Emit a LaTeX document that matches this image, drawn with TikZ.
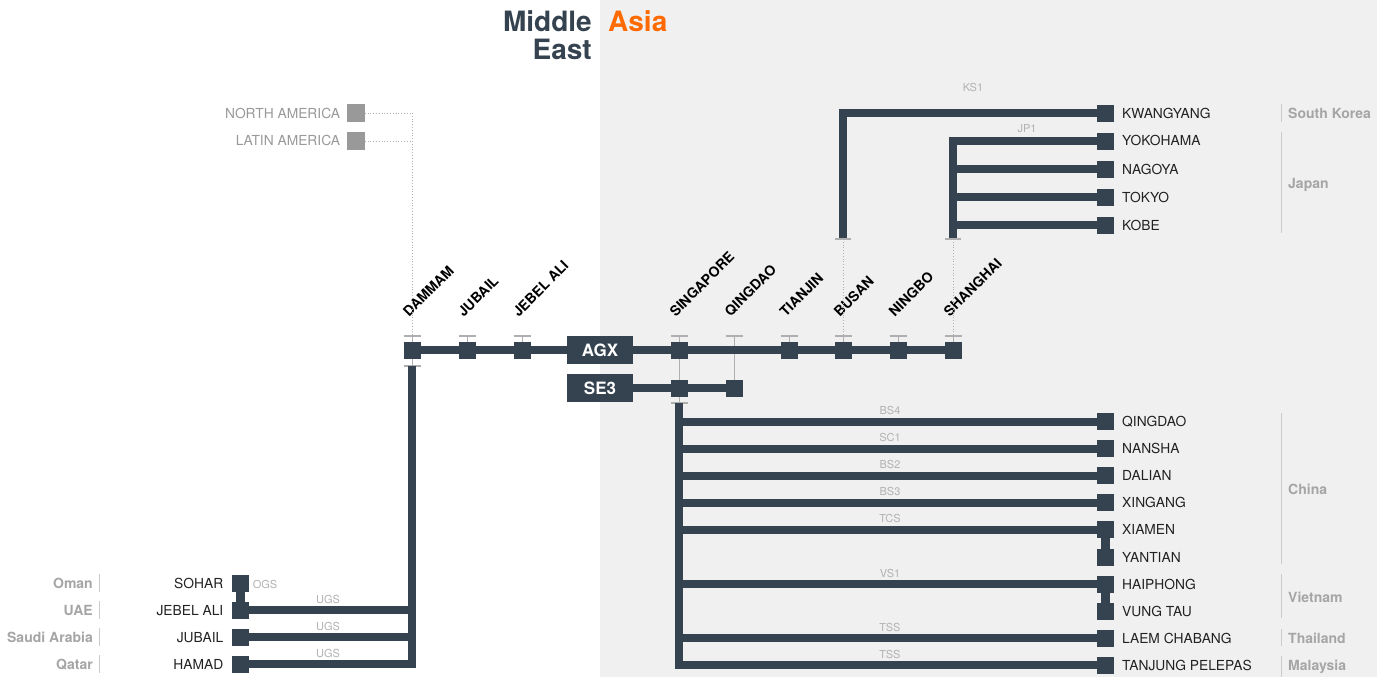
\documentclass[tikz,border=0pt]{standalone}
\usepackage{fontspec}
\setmainfont{TeX Gyre Heros}
\definecolor{dark}{RGB}{52,67,79}
\definecolor{bggray}{RGB}{240,240,240}
\definecolor{orangeA}{RGB}{255,106,0}
\definecolor{lblc}{RGB}{178,178,178}
\definecolor{ctryc}{RGB}{165,165,165}
\definecolor{tickc}{RGB}{175,175,175}
\definecolor{amer}{RGB}{153,153,153}
\definecolor{portc}{RGB}{34,34,34}
\begin{document}
\begin{tikzpicture}[x=1pt,y=-1pt,
  sq/.style={rectangle, fill=dark, minimum size=17pt, inner sep=0pt, outer sep=0pt},
  asq/.style={rectangle, fill=amer, minimum size=17.5pt, inner sep=0pt, outer sep=0pt},
  route/.style={draw=dark, line width=8pt},
  link/.style={draw=dark, line width=9pt},
  thinline/.style={draw=tickc, line width=1pt},
  tickmark/.style={draw=tickc, line width=1.3pt},
  dots/.style={draw=tickc, line width=0.8pt, dotted},
  bracket/.style={draw=black!20, line width=0.9pt},
  rl/.style={text=lblc, font=\fontsize{11}{13}\selectfont, inner sep=0pt},
  port/.style={text=portc, font=\fontsize{13.8}{16}\selectfont, inner sep=0pt},
  amtext/.style={text=amer, font=\fontsize{13.8}{16}\selectfont, inner sep=0pt},
  ctry/.style={text=ctryc, font=\bfseries\fontsize{14}{16}\selectfont, inner sep=0pt},
  stoplbl/.style={rotate=45, anchor=south west, text=black, font=\bfseries\fontsize{14}{16}\selectfont, inner sep=0pt},
  svc/.style={rectangle, fill=dark, text=white, font=\bfseries\fontsize{17}{20}\selectfont, minimum width=66pt, minimum height=27.5pt, inner sep=0pt, outer sep=0pt},
  ttl/.style={font=\bfseries\fontsize{28}{30}\selectfont, inner sep=0pt}
]
\useasboundingbox (0,0) rectangle (1377,677);
\fill[white] (0,0) rectangle (600,677);
\fill[bggray] (600,0) rectangle (1377,677);

% titles
\node[ttl, text=dark, anchor=base east] (t1) at (592,32) {Middle};
\node[ttl, text=dark, anchor=base east] (t2) at (592,60) {East};
\node[ttl, text=orangeA, anchor=base west] (t3) at (608,32) {Asia};

% main line stops
\node[sq] (dam) at (412,350) {};
\node[sq] (jub) at (467,350) {};
\node[sq] (jeb) at (522,350) {};
\node[svc] (agx) at (600,350) {AGX};
\node[sq] (sgp) at (679,350) {};
\node[sq] (tia) at (789,350) {};
\node[sq] (bus) at (843,350) {};
\node[sq] (nin) at (898,350) {};
\node[sq] (sha) at (953,350) {};
\coordinate (qdtop) at (734,336);

\node[svc] (se3) at (600,388) {SE3};
\node[sq] (sgs) at (679,388) {};
\node[sq] (qds) at (734,388) {};

% thin links and ticks
\draw[thinline] (qdtop) -- (qds.north);
\draw[thinline] (sgp.south) -- (sgs.north);
\draw[tickmark] ([xshift=-8.5pt]qdtop) -- ([xshift=8.5pt]qdtop);
\foreach \n in {dam,jub,jeb,sgp,tia,bus,nin,sha}{
  \draw[tickmark] ([yshift=5.5pt]\n.north west) -- ([yshift=5.5pt]\n.north east);
  \draw[thinline] ([yshift=5.5pt]\n.north) -- (\n.north);
}
% tick below Dammam and below Singapore (SE3)
\coordinate (damb) at (412,366);
\draw[tickmark] ([xshift=-8.5pt]damb) -- ([xshift=8.5pt]damb);
\draw[thinline] (dam.south) -- (damb);
\coordinate (seb) at (679,403);
\draw[tickmark] ([xshift=-8.5pt]seb) -- ([xshift=8.5pt]seb);
\draw[thinline] (sgs.south) -- (seb);

% main routes
\draw[route] (dam) -- (jub);
\draw[route] (jub) -- (jeb);
\draw[route] (jeb) -- (agx);
\draw[route] (agx) -- (sgp);
\draw[route] (sgp) -- (tia);
\draw[route] (tia) -- (bus);
\draw[route] (bus) -- (nin);
\draw[route] (nin) -- (sha);
\draw[route] (se3) -- (sgs);
\draw[route] (sgs) -- (qds);

% stop labels
\foreach \n/\t in {dam/DAMMAM, jub/JUBAIL, jeb/JEBEL ALI, sgp/SINGAPORE, tia/TIANJIN, bus/BUSAN, nin/NINGBO, sha/SHANGHAI}{
  \node[stoplbl] at ([xshift=-3pt]\n |- 0,318) {\t};
}
\node[stoplbl] at ([xshift=-3pt]qdtop |- 0,318) {QINGDAO};

% Americas
\node[asq] (nam) at (356,113) {};
\node[asq] (lam) at (356,141) {};
\node[amtext, anchor=base east] at ([xshift=-7pt,yshift=-5pt]nam.west) {NORTH AMERICA};
\node[amtext, anchor=base east] at ([xshift=-7pt,yshift=-5pt]lam.west) {LATIN AMERICA};
\coordinate (amc) at (412,113);
\draw[dots] (nam.east) -- (amc);
\draw[dots] (lam.east) -- (amc |- lam);
\draw[dots] (amc) -- ([yshift=5.5pt]dam.north);

% KS1 / JP1
\node[sq] (kwa) at (1105.5,113) {};
\node[sq] (yok) at (1105.5,141) {};
\node[sq] (nag) at (1105.5,169) {};
\node[sq] (tok) at (1105.5,197) {};
\node[sq] (kob) at (1105.5,225) {};
\coordinate (ksb) at (843,239);
\coordinate (jpb) at (953,239);
\draw[dots] (ksb) -- ([yshift=5.5pt]bus.north);
\draw[dots] (jpb) -- ([yshift=5.5pt]sha.north);
\draw[route] (ksb) -- (ksb |- kwa) -- (kwa);
\draw[route] (jpb) -- (jpb |- yok) -- (yok);
\foreach \n in {nag,tok,kob}{ \draw[route] (jpb |- \n) -- (\n); }
\draw[tickmark] ([xshift=-8pt]ksb) -- ([xshift=8pt]ksb);
\draw[tickmark] ([xshift=-8pt]jpb) -- ([xshift=8pt]jpb);
\node[rl] at (973,87) {KS1};
\node[rl] at (1027,129) {JP1};

% SE3 branches
\node[sq] (qin) at (1105.5,421.5) {};
\node[sq] (nan) at (1105.5,448.6) {};
\node[sq] (dal) at (1105.5,475.7) {};
\node[sq] (xin) at (1105.5,502.8) {};
\node[sq] (xia) at (1105.5,529.9) {};
\node[sq] (yan) at (1105.5,557) {};
\node[sq] (hai) at (1105.5,584) {};
\node[sq] (vun) at (1105.5,611) {};
\node[sq] (lae) at (1105.5,638) {};
\node[sq] (tan) at (1105.5,665) {};
\draw[route] (seb) -- (seb |- tan) -- (tan);
\foreach \n in {qin,nan,dal,xin,xia,hai,lae}{ \draw[route] (seb |- \n) -- (\n); }
\draw[link] (xia) -- (yan);
\draw[link] (hai) -- (vun);
\foreach \n/\t in {qin/BS4, nan/SC1, dal/BS2, xin/BS3, xia/TCS, hai/VS1, lae/TSS, tan/TSS}{
  \node[rl] at ([yshift=11pt]890,0 |- \n) {\t};
}

% right port names
\foreach \n/\t in {kwa/KWANGYANG, yok/YOKOHAMA, nag/NAGOYA, tok/TOKYO, kob/KOBE, qin/QINGDAO, nan/NANSHA, dal/DALIAN, xin/XINGANG, xia/XIAMEN, yan/YANTIAN, hai/HAIPHONG, vun/VUNG TAU, lae/LAEM CHABANG, tan/TANJUNG PELEPAS}{
  \node[port, anchor=base west] at ([xshift=8pt,yshift=-5pt]\n.east) {\t};
}

% right country brackets
\draw[bracket] (1281,104) -- (1281,122);
\draw[bracket] (1281,132) -- (1281,233);
\draw[bracket] (1281,413) -- (1281,564);
\draw[bracket] (1281,574) -- (1281,618);
\draw[bracket] (1281,629) -- (1281,646);
\draw[bracket] (1281,656) -- (1281,677);
\node[ctry, anchor=base west] at (1288,118) {South Korea};
\node[ctry, anchor=base west] at (1288,188) {Japan};
\node[ctry, anchor=base west] at (1288,494.5) {China};
\node[ctry, anchor=base west] at (1288,602) {Vietnam};
\node[ctry, anchor=base west] at (1288,643) {Thailand};
\node[ctry, anchor=base west] at (1288,670) {Malaysia};

% left (Middle East) branch
\node[sq] (soh) at (240,583) {};
\node[sq] (jal) at (240,610) {};
\node[sq] (jbl) at (240,637) {};
\node[sq] (ham) at (240,664) {};
\draw[route] (damb) -- (damb |- ham) -- (ham);
\draw[route] (damb |- jal) -- (jal);
\draw[route] (damb |- jbl) -- (jbl);
\draw[link] (soh) -- (jal);
\node[rl] at (265,584) {OGS};
\foreach \n in {jal,jbl,ham}{ \node[rl] at ([yshift=11pt]328,0 |- \n) {UGS}; }
\foreach \n/\t/\c in {soh/SOHAR/Oman, jal/JEBEL ALI/UAE, jbl/JUBAIL/Saudi Arabia, ham/HAMAD/Qatar}{
  \node[port, anchor=base east] at ([xshift=-8pt,yshift=-5pt]\n.west) {\t};
  \node[ctry, anchor=base east] at ([yshift=-5pt]93,0 |- \n) {\c};
  \draw[bracket] ([yshift=9pt]99.5,0 |- \n) -- ([yshift=-9pt]99.5,0 |- \n);
}
\end{tikzpicture}
\end{document}
